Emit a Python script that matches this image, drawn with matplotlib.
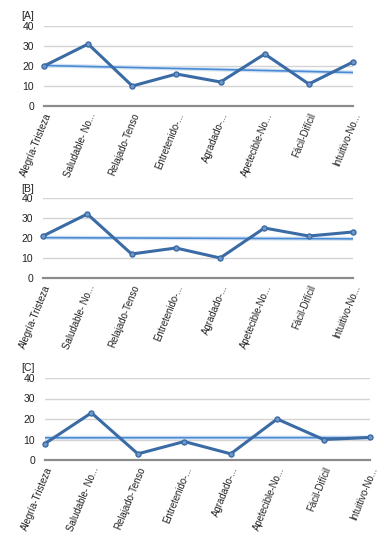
import numpy as np
import matplotlib
matplotlib.use("Agg")
import matplotlib.pyplot as plt

categories = ["Alegría-Tristeza", "Saludable- No...", "Relajado-Tenso", "Entretenido-...",
              "Agradado-...", "Apetecible-No...", "Fácil-Difícil", "Intuitivo-No..."]
values_a = [20, 31, 10, 16, 12, 26, 11, 22]
values_b = [21, 32, 12, 15, 10, 25, 21, 23]
values_c = [8, 23, 3, 9, 3, 20, 10, 11]
panel_labels = ["[A]", "[B]", "[C]"]
yticks = [0, 10, 20, 30, 40]

W, H = 384, 536
fig = plt.figure(figsize=(W / 100, H / 100), dpi=100)
plt.rcParams['font.family'] = ['Liberation Sans', 'DejaVu Sans']

# (left, right, top_px_of_40, bottom_px_of_0, label_y)
layouts = [
    (44, 353, 26, 106, 16),
    (43, 353, 198, 278, 189),
    (45, 370, 378, 460, 368),
]

line_col = "#3b6ba5"
trend_col = "#4a8ad4"

for vals, lab, (l, r, t, b, ly) in zip([values_a, values_b, values_c], panel_labels, layouts):
    ax = fig.add_axes([l / W, 1 - b / H, (r - l) / W, (b - t) / H])
    x = np.arange(len(categories))
    for yv in yticks[1:]:
        ax.axhline(yv, color="#d4d4d4", lw=1.0, zorder=0)
    ax.axhline(0, color="#8c8c8c", lw=1.6, zorder=1, clip_on=False)
    p = np.polyfit(x, vals, 1)
    tx = np.array([0, len(categories) - 1])
    ax.plot(tx, np.polyval(p, tx), color="#d3e3f3", lw=3.0, zorder=2, solid_capstyle='butt')
    ax.plot(tx, np.polyval(p, tx), color=trend_col, lw=1.2, zorder=3)
    ax.plot(x, vals, color=line_col, lw=2.2, marker='o', markersize=3.6,
            markerfacecolor="#6f98c8", markeredgecolor=line_col, markeredgewidth=1.0,
            zorder=4, clip_on=False)
    ax.set_xlim(0, len(categories) - 1)
    ax.set_ylim(0, 40)
    ax.set_yticks(yticks)
    ax.set_yticklabels([str(v) for v in yticks], fontsize=7.5, color="#222222")
    ax.set_xticks(x)
    ax.set_xticklabels(categories, rotation=68, ha='right', va='top',
                       rotation_mode='anchor', fontsize=6.9, color="#222222")
    ax.tick_params(axis='both', length=0)
    ax.tick_params(axis='y', pad=7)
    ax.tick_params(axis='x', pad=4)
    for s in ax.spines.values():
        s.set_visible(False)
    ax.patch.set_alpha(0)
    fig.text(21 / W, 1 - ly / H, lab, fontsize=7.5, ha='left', va='center', color="#222222")

fig.savefig("out.png", dpi=100)
